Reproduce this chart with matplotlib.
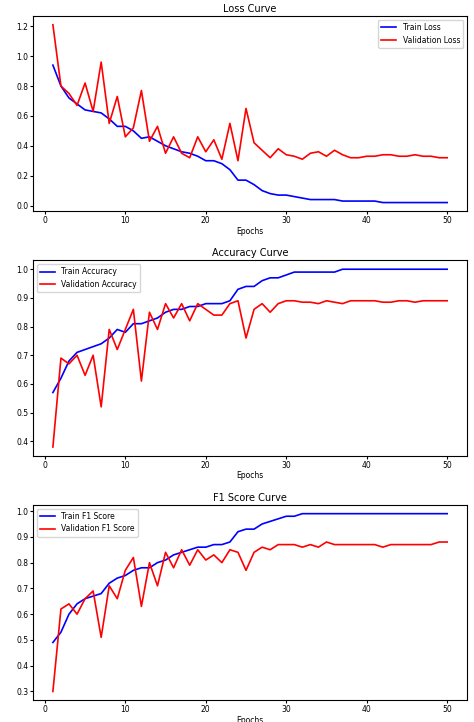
import matplotlib
matplotlib.use("Agg")
import matplotlib.pyplot as plt
import numpy as np

epochs = list(range(1, 51))
train_loss = [0.94,0.80,0.72,0.68,0.64,0.63,0.62,0.58,0.53,0.53,0.50,0.45,0.46,0.43,0.40,0.38,0.36,0.35,0.33,0.30,
              0.30,0.28,0.24,0.17,0.17,0.14,0.10,0.08,0.07,0.07,0.06,0.05,0.04,0.04,0.04,0.04,0.03,0.03,0.03,0.03,
              0.03,0.02,0.02,0.02,0.02,0.02,0.02,0.02,0.02,0.02]
val_loss = [1.21,0.80,0.75,0.67,0.82,0.63,0.96,0.55,0.73,0.46,0.52,0.77,0.43,0.53,0.35,0.46,0.35,0.32,0.46,0.36,
            0.44,0.31,0.55,0.30,0.65,0.42,0.37,0.32,0.38,0.34,0.33,0.31,0.35,0.36,0.33,0.37,0.34,0.32,0.32,0.33,
            0.33,0.34,0.34,0.33,0.33,0.34,0.33,0.33,0.32,0.32]
train_acc = [0.57,0.62,0.68,0.71,0.72,0.73,0.74,0.76,0.79,0.78,0.81,0.81,0.82,0.83,0.85,0.86,0.86,0.87,0.87,0.88,
             0.88,0.88,0.89,0.93,0.94,0.94,0.96,0.97,0.97,0.98,0.99,0.99,0.99,0.99,0.99,0.99,1.0,1.0,1.0,1.0,
             1.0,1.0,1.0,1.0,1.0,1.0,1.0,1.0,1.0,1.0]
val_acc = [0.38,0.69,0.67,0.70,0.63,0.70,0.52,0.79,0.72,0.79,0.86,0.61,0.85,0.79,0.88,0.83,0.88,0.82,0.88,0.86,
           0.84,0.84,0.88,0.89,0.76,0.86,0.88,0.85,0.88,0.89,0.89,0.885,0.885,0.88,0.89,0.885,0.88,0.89,0.89,0.89,
           0.89,0.885,0.885,0.89,0.89,0.885,0.89,0.89,0.89,0.89]
train_f1 = [0.49,0.53,0.60,0.64,0.66,0.67,0.68,0.72,0.74,0.75,0.77,0.78,0.78,0.80,0.81,0.83,0.84,0.85,0.86,0.86,
            0.87,0.87,0.88,0.92,0.93,0.93,0.95,0.96,0.97,0.98,0.98,0.99,0.99,0.99,0.99,0.99,0.99,0.99,0.99,0.99,
            0.99,0.99,0.99,0.99,0.99,0.99,0.99,0.99,0.99,0.99]
val_f1 = [0.30,0.62,0.64,0.60,0.66,0.69,0.51,0.71,0.66,0.77,0.82,0.63,0.80,0.71,0.84,0.78,0.85,0.79,0.85,0.81,
          0.83,0.80,0.85,0.84,0.77,0.84,0.86,0.85,0.87,0.87,0.87,0.86,0.87,0.86,0.88,0.87,0.87,0.87,0.87,0.87,
          0.87,0.86,0.87,0.87,0.87,0.87,0.87,0.87,0.88,0.88]

panels = [
    ("Loss Curve", train_loss, val_loss, "Train Loss", "Validation Loss", "upper right"),
    ("Accuracy Curve", train_acc, val_acc, "Train Accuracy", "Validation Accuracy", "upper left"),
    ("F1 Score Curve", train_f1, val_f1, "Train F1 Score", "Validation F1 Score", "upper left"),
]

fig, axes = plt.subplots(3, 1, figsize=(4.74, 7.22), dpi=100)
for ax, (title, tr, va, lt, lv, loc) in zip(axes, panels):
    ax.plot(epochs, tr, color="blue", lw=1.2, label=lt)
    ax.plot(epochs, va, color="red", lw=1.2, label=lv)
    ax.set_title(title, fontsize=7, pad=3)
    ax.set_xlabel("Epochs", fontsize=5.5, labelpad=1)
    ax.tick_params(labelsize=5.5, length=2, pad=1.5)
    ax.legend(loc=loc, fontsize=5.5)
axes[0].set_yticks(np.arange(0, 1.21, 0.2))
fig.subplots_adjust(left=0.07, right=0.985, top=0.978, bottom=0.03, hspace=0.25)
fig.savefig("out.png")
